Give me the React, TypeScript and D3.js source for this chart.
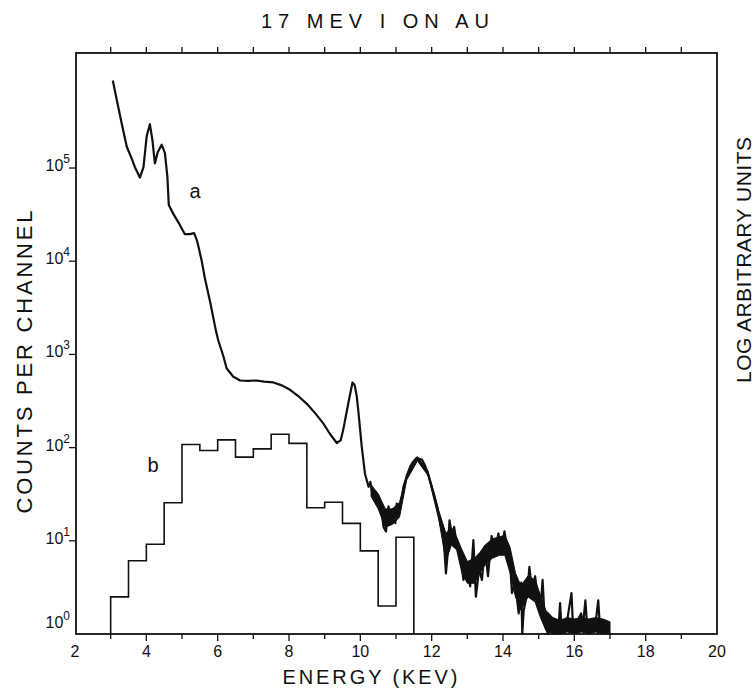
import React from 'react';
import * as d3 from 'd3';

// Spectrum "a": [energy keV, counts per channel]
const spectrumA: [number, number][] = [
  [3.06, 870000], [3.17, 540000], [3.31, 300000], [3.45, 170000], [3.59, 126000],
  [3.68, 102000], [3.82, 79000], [3.92, 102000], [4.01, 220000], [4.10, 295000],
  [4.17, 200000], [4.24, 112000], [4.32, 148000], [4.43, 178000], [4.52, 145000],
  [4.59, 81000], [4.63, 40000], [4.76, 32000], [4.94, 24500], [5.08, 19500],
  [5.22, 19500], [5.34, 20000], [5.43, 16200], [5.55, 10200], [5.64, 6600],
  [5.80, 3500], [5.95, 1800], [6.02, 1400], [6.16, 955], [6.25, 710],
  [6.44, 575], [6.63, 525], [6.85, 520], [7.09, 525], [7.30, 510],
  [7.56, 500], [7.80, 465], [8.03, 417], [8.25, 360], [8.50, 295],
  [8.75, 230], [8.96, 182], [9.15, 140], [9.34, 112], [9.45, 120],
  [9.52, 155], [9.66, 295], [9.78, 500], [9.84, 470], [9.90, 355],
  [9.95, 234], [10.04, 102], [10.13, 52.5], [10.23, 38], [10.28, 43],
  [10.33, 33], [10.37, 32.4], [10.45, 27], [10.52, 30], [10.60, 20],
  [10.65, 14.1], [10.72, 12.6], [10.79, 23.4], [10.85, 18], [10.92, 22],
  [10.98, 15.5], [11.02, 25.1], [11.10, 20], [11.21, 38], [11.30, 49],
  [11.40, 63], [11.50, 72], [11.58, 77.6], [11.65, 76], [11.73, 74],
  [11.80, 66], [11.86, 57.5], [11.93, 47], [12.00, 38], [12.08, 30],
  [12.15, 23.4], [12.24, 15.5], [12.33, 12], [12.40, 4.47], [12.45, 7.4],
  [12.50, 16.6], [12.57, 11], [12.63, 14.1], [12.71, 8.7], [12.80, 7.6],
  [12.89, 3.8], [12.99, 5.25], [13.08, 3.24], [13.17, 10.2], [13.24, 2.51],
  [13.33, 5.0], [13.41, 3.8], [13.49, 8.7], [13.58, 4.17], [13.68, 11.2],
  [13.77, 7.08], [13.87, 12], [13.96, 7.6], [14.04, 12.6], [14.11, 8.7],
  [14.19, 6.76], [14.25, 2.75], [14.34, 3.55], [14.44, 1.66], [14.51, 3.55],
  [14.54, 1.0], [14.58, 1.78], [14.68, 2.75], [14.74, 5.25], [14.81, 2.95],
  [14.90, 4.17], [14.96, 2.75], [15.04, 1.66], [15.11, 3.8], [15.18, 1.2],
  [15.27, 1.0], [15.37, 1.41], [15.46, 1.2], [15.55, 1.05], [15.60, 2.14],
  [15.64, 1.2], [15.78, 1.26], [15.92, 2.75], [15.96, 1.26], [16.10, 1.41],
  [16.19, 1.66], [16.24, 1.2], [16.31, 2.3], [16.36, 1.2], [16.42, 1.41],
  [16.52, 1.2], [16.60, 1.35], [16.67, 2.3], [16.72, 1.15], [16.85, 1.3],
  [17.00, 1.2],
];

// channel-to-channel scatter of "a" in the noisy tail: [keV, low, high]
const noiseBand: [number, number, number][] = [
  [10.30, 30, 40], [10.50, 22, 32], [10.70, 14, 22], [10.90, 15, 22], [11.10, 18, 26],
  [11.30, 45, 52], [11.60, 72, 80], [11.90, 50, 56], [12.20, 17, 21], [12.40, 6, 12],
  [12.55, 9, 14], [12.70, 8, 11], [12.85, 4.5, 8], [13.00, 3.5, 6], [13.20, 3.5, 6.5],
  [13.35, 4.5, 7.5], [13.50, 5.5, 9], [13.70, 6.5, 10.5], [13.90, 7, 11], [14.05, 7, 11.5],
  [14.20, 4.5, 8.5], [14.35, 2.5, 4.5], [14.50, 1.8, 3.3], [14.70, 2.5, 4.2], [14.90, 2.2, 3.8],
  [15.05, 1.5, 2.6], [15.20, 1.1, 1.8], [15.40, 1.0, 1.5], [15.60, 1.0, 1.4], [15.80, 1.05, 1.5],
  [16.00, 1.0, 1.45], [16.20, 1.05, 1.5], [16.40, 1.0, 1.45], [16.60, 1.05, 1.5], [16.80, 1.0, 1.45],
  [17.00, 1.0, 1.35],
];

// Histogram "b": bin edges (keV) and heights
const binEdges = [3.0, 3.5, 4.0, 4.5, 5.0, 5.5, 6.0, 6.5, 7.0, 7.5, 8.0, 8.5, 9.0, 9.5, 10.0, 10.5, 11.0, 11.5];
const binValues = [2.5, 6.1, 9.2, 25.6, 108, 93, 121, 79, 97, 139, 111, 22.6, 25.9, 15.4, 7.8, 2.0, 10.9];

const xMajor = [2, 4, 6, 8, 10, 12, 14, 16, 18, 20];
const xMinor = [3, 5, 7, 9, 11, 13, 15, 17, 19];
const yDecades = [0, 1, 2, 3, 4, 5];

const W = 756;
const H = 689;
const left = 75, right = 717, top = 53, bottom = 634;
const font = '"Liberation Sans", Arial, sans-serif';
const ink = '#111';

export default function App() {
  const x = d3.scaleLinear().domain([2, 20]).range([left, right]);
  const y = d3.scaleLog().domain([1, Math.pow(10, 6.234)]).range([bottom, top]).clamp(true);

  const line = d3.line<[number, number]>()
    .x(d => x(d[0]))
    .y(d => y(d[1]));

  const band = d3.area<[number, number, number]>()
    .x(d => x(d[0]))
    .y0(d => y(d[1]))
    .y1(d => y(d[2]));

  // step outline for the histogram
  const histPts: [number, number][] = [[binEdges[0], 1]];
  binValues.forEach((v, i) => {
    histPts.push([binEdges[i], v]);
    histPts.push([binEdges[i + 1], v]);
  });
  histPts.push([binEdges[binEdges.length - 1], 1]);

  return (
    <svg width={W} height={H} style={{ position: 'absolute', left: 0, top: 0, background: '#fff' }}
      fontFamily={font} fill={ink}>
      {/* title */}
      <text x={375} y={28} textAnchor="middle" fontSize={20} textLength={228} lengthAdjust="spacing">
        17 MEV I ON AU
      </text>

      {/* frame */}
      <rect x={left + 1} y={top} width={right - left - 1} height={bottom - top}
        fill="none" stroke={ink} strokeWidth={1.8} />

      {/* top ticks */}
      {[...xMinor, 4, 6, 8, 10, 12, 14, 16, 18].map(k => (
        <line key={'t' + k} x1={x(k)} x2={x(k)} y1={top} y2={top - 6} stroke={ink} strokeWidth={1.3} />
      ))}

      {/* bottom ticks + labels */}
      {xMinor.map(k => (
        <line key={'bm' + k} x1={x(k)} x2={x(k)} y1={bottom} y2={bottom + 5} stroke={ink} strokeWidth={1.3} />
      ))}
      {xMajor.slice(1, -1).map(k => (
        <line key={'bM' + k} x1={x(k)} x2={x(k)} y1={bottom} y2={bottom + 7} stroke={ink} strokeWidth={1.3} />
      ))}
      {xMajor.map(k => (
        <text key={'bl' + k} x={x(k)} y={657} textAnchor="middle" fontSize={16}>{k}</text>
      ))}
      <text x={370} y={684} textAnchor="middle" fontSize={20} textLength={175} lengthAdjust="spacing">
        ENERGY (KEV)
      </text>

      {/* left ticks + labels */}
      {yDecades.map(p => (
        <g key={'y' + p}>
          {p > 0 && (
            <line x1={left + 1} x2={left - 6} y1={y(Math.pow(10, p))} y2={y(Math.pow(10, p))}
              stroke={ink} strokeWidth={1.3} />
          )}
          <text x={70} y={p === 0 ? 628 : y(Math.pow(10, p)) + 3} textAnchor="end" fontSize={16}>
            <tspan>10</tspan>
            <tspan dy={-8} fontSize={12}>{p}</tspan>
          </text>
        </g>
      ))}

      <text transform="translate(32,362) rotate(-90)" textAnchor="middle" fontSize={22}
        textLength={303} lengthAdjust="spacing">
        COUNTS PER CHANNEL
      </text>
      <text transform="translate(751,260) rotate(-90)" textAnchor="middle" fontSize={21}
        textLength={246} lengthAdjust="spacing">
        LOG ARBITRARY UNITS
      </text>

      {/* histogram b */}
      <path d={line(histPts) || ''} fill="none" stroke={ink} strokeWidth={1.6} />

      {/* spectrum a */}
      <path d={band(noiseBand) || ''} fill={ink} stroke={ink} strokeWidth={1} />
      <path d={line(spectrumA) || ''} fill="none" stroke={ink} strokeWidth={2.2} strokeLinejoin="round" />

      <text x={195} y={198} textAnchor="middle" fontSize={20}>a</text>
      <text x={153} y={472} textAnchor="middle" fontSize={20}>b</text>
    </svg>
  );
}
